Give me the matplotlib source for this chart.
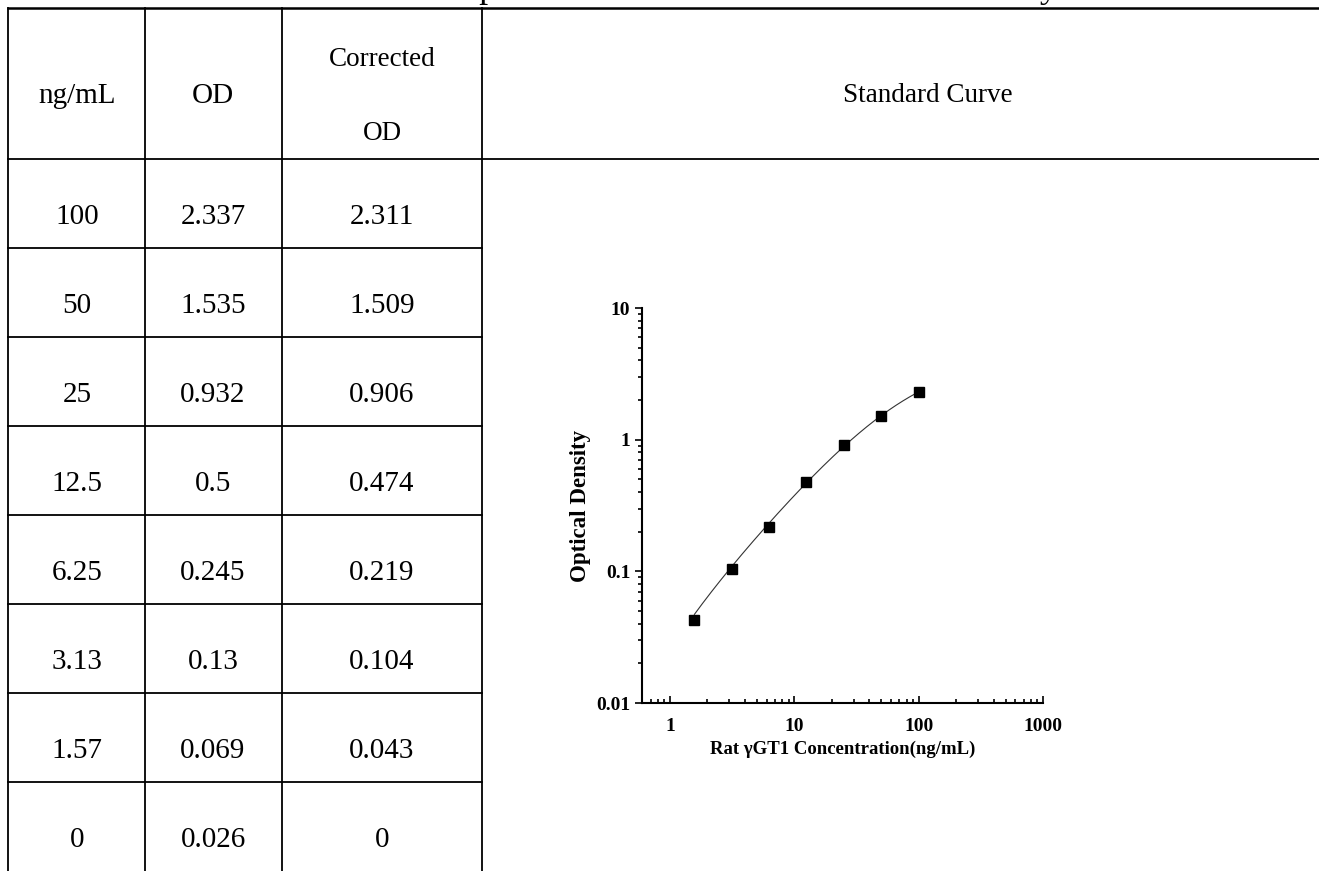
import numpy as np
import matplotlib.pyplot as plt
from matplotlib.lines import Line2D

# table data
conc_labels = ['100', '50', '25', '12.5', '6.25', '3.13', '1.57', '0']
od_labels = ['2.337', '1.535', '0.932', '0.5', '0.245', '0.13', '0.069', '0.026']
corr_labels = ['2.311', '1.509', '0.906', '0.474', '0.219', '0.104', '0.043', '0']

# standard curve points
std_conc = np.array([100, 50, 25, 12.5, 6.25, 3.13, 1.57, 0.0])
std_od = np.array([2.311, 1.509, 0.906, 0.474, 0.219, 0.104, 0.043, 0.0])

title_text = 'Example of the Standard Curve for this Assay'

W, H = 1319, 871
plt.rcParams['font.family'] = ['Liberation Serif', 'DejaVu Serif']
fig = plt.figure(figsize=(W / 100, H / 100), dpi=100)

# overlay in pixel coordinates for the table
bg = fig.add_axes([0, 0, 1, 1])
bg.set_xlim(0, W)
bg.set_ylim(H, 0)
bg.axis('off')

col_x = [8, 145, 282, 482]
top, head_bot, row_h = 8, 159, 89
lw = 1.3

def hline(y, x0, x1, w=lw):
    bg.add_line(Line2D([x0, x1], [y, y], color='black', lw=w))

def vline(x, y0, y1):
    bg.add_line(Line2D([x, x], [y0, y1], color='black', lw=lw))

hline(top, col_x[0], W, 1.8)
hline(head_bot, col_x[0], W)
for x in col_x:
    vline(x, top, H)
for i in range(1, len(conc_labels)):
    hline(head_bot + i * row_h, col_x[0], col_x[3])

fs = 21
bg.text(77, 96, 'ng/mL', fontsize=fs, ha='center', va='center')
bg.text(213, 96, 'OD', fontsize=fs, ha='center', va='center')
bg.text(382, 60, 'Corrected', fontsize=19.5, ha='center', va='center')
bg.text(382, 133, 'OD', fontsize=19.5, ha='center', va='center')
bg.text(928, 95, 'Standard Curve', fontsize=19.5, ha='center', va='center')

centers = [77, 213, 382]
for i, (a, b, c) in enumerate(zip(conc_labels, od_labels, corr_labels)):
    y = head_bot + i * row_h + row_h / 2 + 13
    for cx, s in zip(centers, (a, b, c)):
        bg.text(cx, y, s, fontsize=fs, ha='center', va='center')

# title cut off at the top edge, only descenders show
bg.text(395, -3, title_text, fontsize=26, ha='left', va='baseline', clip_on=False)


# four parameter logistic fit (simple Levenberg-Marquardt)
def f4pl(x, p):
    a, b, lc, d = p
    return d + (a - d) / (1 + (x / np.exp(lc)) ** b)

def fit4pl(x, y, p0, n_iter=500):
    p = np.array(p0, dtype=float)
    lam = 1e-2
    err = np.sum((f4pl(x, p) - y) ** 2)
    for _ in range(n_iter):
        r = f4pl(x, p) - y
        J = np.zeros((len(x), len(p)))
        for k in range(len(p)):
            dp = np.zeros_like(p)
            dp[k] = 1e-6 * max(1.0, abs(p[k]))
            J[:, k] = (f4pl(x, p + dp) - f4pl(x, p)) / dp[k]
        A = J.T @ J
        step = np.linalg.solve(A + lam * np.diag(np.diag(A)), -J.T @ r)
        p_new = p + step
        err_new = np.sum((f4pl(x, p_new) - y) ** 2)
        if np.isfinite(err_new) and err_new < err:
            p, err, lam = p_new, err_new, lam / 3
        else:
            lam *= 4
    return p

params = fit4pl(std_conc, std_od, [0.0, 1.2, np.log(100.0), 6.0])

# standard curve plot
ax_l, ax_r, ax_t, ax_b = 642, 1043, 308, 703
ax = fig.add_axes([ax_l / W, (H - ax_b) / H, (ax_r - ax_l) / W, (ax_b - ax_t) / H])
ax.set_xscale('log')
ax.set_yscale('log')
ax.set_xlim(10 ** (-28 / 124), 1000)
ax.set_ylim(0.01, 10)

pts = std_conc > 0
xs = np.logspace(np.log10(std_conc[pts].min()), np.log10(std_conc.max()), 200)
ax.plot(xs, f4pl(xs, params), color='#333333', lw=0.8)
ax.plot(std_conc[pts], std_od[pts], 's', color='black', ms=7.4, ls='none')

for s in ('top', 'right'):
    ax.spines[s].set_visible(False)
for s in ('left', 'bottom'):
    ax.spines[s].set_linewidth(1.5)

ax.set_xticks([1, 10, 100, 1000])
ax.set_xticklabels(['1', '10', '100', '1000'])
ax.set_yticks([0.01, 0.1, 1, 10])
ax.set_yticklabels(['0.01', '0.1', '1', '10'])
ax.tick_params(axis='x', which='both', direction='in', width=1.2, pad=11)
ax.tick_params(axis='x', which='major', length=5)
ax.tick_params(axis='x', which='minor', length=3)
ax.tick_params(axis='y', which='both', direction='out', width=1.2)
ax.tick_params(axis='y', which='major', length=5)
ax.tick_params(axis='y', which='minor', length=3)
for lab in ax.get_xticklabels() + ax.get_yticklabels():
    lab.set_fontweight('bold')
    lab.set_fontsize(14)

ax.set_xlabel('Rat γGT1 Concentration(ng/mL)', fontsize=13.5, fontweight='bold', labelpad=4)
ax.set_ylabel('Optical Density', fontsize=16.5, fontweight='bold', labelpad=4)

fig.savefig('out.png', dpi=100)
